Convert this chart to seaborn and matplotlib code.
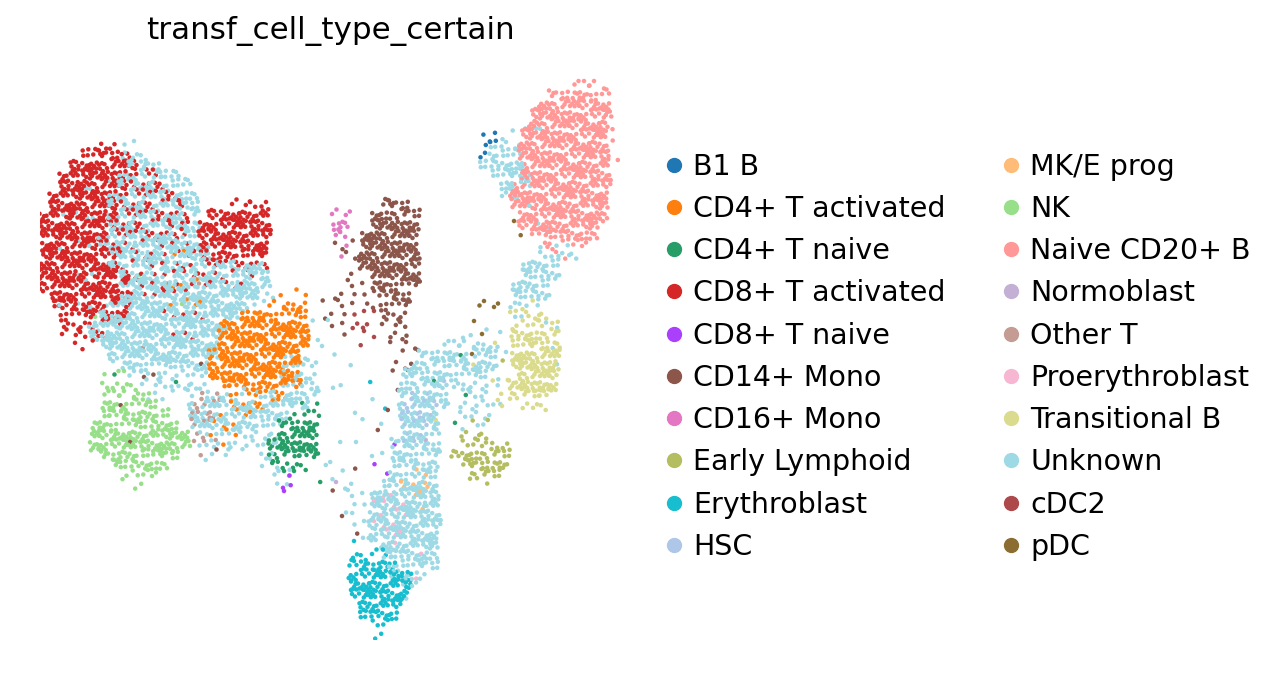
import numpy as np
import pandas as pd
import matplotlib
matplotlib.use("Agg")
import matplotlib.pyplot as plt
from matplotlib.lines import Line2D
import seaborn as sns

categories = ["B1 B", "CD4+ T activated", "CD4+ T naive", "CD8+ T activated",
              "CD8+ T naive", "CD14+ Mono", "CD16+ Mono", "Early Lymphoid",
              "Erythroblast", "HSC", "MK/E prog", "NK", "Naive CD20+ B",
              "Normoblast", "Other T", "Proerythroblast", "Transitional B",
              "Unknown", "cDC2", "pDC"]
colors = ['#1f77b4', '#ff7f0e', '#279e68', '#d62728', '#aa40fc', '#8c564b',
          '#e377c2', '#b5bd61', '#17becf', '#aec7e8', '#ffbb78', '#98df8a',
          '#ff9896', '#c5b0d5', '#c49c94', '#f7b6d2', '#dbdb8d', '#9edae5',
          '#ad494a', '#8c6d31']

# blocks read off the umap: (grid row, first col, last col, density 1-4)
# grid cells are 10 px, row 0 at y=80 px, col 0 at x=40 px
b1_b = [(5,44,45,1),(6,44,45,2),(7,44,44,2)]
cd4_act = [(21,24,26,1),(22,23,26,2),(23,20,26,3),(24,18,26,4),(25,18,26,4),(26,18,26,4),
           (27,17,25,4),(28,17,25,4),(29,17,25,4),(30,18,25,3),(31,19,24,2),(32,19,23,2),
           (33,18,21,1),(34,17,19,1),(35,17,19,1),(36,18,18,1),
           (17,13,14,1),(20,12,15,1),(22,13,16,1)]
cd4_naive = [(32,26,27,1),(33,25,27,2),(34,24,27,3),(35,24,27,4),(36,23,27,4),(37,23,27,3),
             (38,23,26,2),(39,24,25,1),(29,7,7,1),(30,13,13,1),(40,28,28,1),(27,42,42,1),
             (30,39,39,1),(31,42,42,1),(34,41,41,1)]
cd8_act = [(6,6,7,2),(7,4,8,3),(8,3,9,4),(9,2,8,4),(9,9,11,2),(10,2,8,4),(10,9,12,2),
           (11,1,7,4),(11,8,13,2),(12,1,7,4),(12,8,14,2),(13,0,7,4),(13,8,14,2),(14,0,7,4),
           (14,8,14,2),(15,0,6,4),(15,7,14,2),(16,0,6,4),(16,7,14,1),(17,0,7,4),(17,8,15,1),
           (18,0,7,4),(18,8,15,1),(19,0,8,4),(19,9,15,1),(20,0,8,4),(20,9,14,1),(21,1,8,4),
           (21,9,13,1),(22,1,8,3),(23,2,8,3),(24,2,7,2),(25,2,6,2),(26,3,5,1),
           (12,19,22,2),(13,17,22,4),(14,16,22,4),(15,16,22,4),(16,16,22,4),(17,16,22,3),
           (18,16,22,2),(19,15,21,1),(20,15,20,1),(23,12,16,1),(25,13,15,1)]
cd8_naive = [(39,25,25,1),(40,24,25,1),(41,24,24,1),(38,33,33,1),(39,34,34,1),(36,35,35,1)]
cd14_mono = [(12,34,36,3),(13,33,37,3),(14,33,37,4),(15,32,37,4),(16,32,37,4),(16,29,31,1),
             (17,32,37,4),(17,30,31,1),(18,32,37,4),(19,33,37,4),(19,31,31,1),(20,33,37,3),
             (20,30,32,1),(21,34,36,3),(21,29,33,1),(22,34,36,3),(22,28,33,1),(23,34,36,2),
             (23,28,30,1),(24,34,36,2),(24,29,30,1),(25,35,36,2),(25,30,30,1),(26,35,37,1),
             (27,36,37,1),(28,35,37,1),(29,35,36,1),(31,35,35,1),(33,34,34,1),(35,33,33,1),
             (38,31,31,1),(41,29,29,1),(43,30,30,1),(45,31,31,1),(29,10,11,1),(32,8,8,1),
             (36,9,9,1),(28,16,16,1),(37,17,17,1)]
cd16_mono = [(13,29,30,2),(14,29,30,3),(15,29,30,2),(16,30,30,1),(17,30,30,1)]
early_lymphoid = [(34,43,44,1),(35,42,44,2),(36,42,46,2),(37,41,46,3),(38,42,46,3),
                  (39,43,45,3),(40,44,44,1),(28,46,46,1)]
erythroblast = [(46,31,31,1),(47,31,34,2),(48,31,35,3),(49,31,36,4),(50,31,36,4),(51,31,36,4),
                (52,32,35,4),(53,32,35,3),(54,33,34,2),(55,33,34,1),(30,33,33,1),(32,34,34,1),
                (49,37,37,1)]
hsc = [(31,37,38,1),(32,36,39,2),(33,36,39,2),(34,36,38,2),(35,36,38,1),(36,36,37,1),(30,39,40,1)]
mke_prog = [(39,37,38,1),(40,36,38,2),(41,37,38,1),(42,38,38,1)]
nk = [(29,6,8,1),(30,6,9,2),(31,6,10,2),(32,6,11,3),(33,6,12,3),(34,5,13,3),(35,5,14,4),
      (36,5,14,4),(37,6,13,3),(38,7,12,3),(39,8,11,2),(40,9,10,1),(19,9,9,1),(23,5,5,1),
      (22,14,14,1)]
naive_b = [(0,53,55,2),(1,51,56,3),(2,50,56,4),(3,49,56,4),(4,49,56,4),(5,48,56,4),
           (6,48,56,4),(7,48,56,4),(8,48,56,4),(9,48,56,4),(10,47,56,4),(11,47,56,4),
           (12,47,56,4),(13,48,56,4),(14,48,55,4),(15,49,55,3),(16,50,54,2),(17,51,52,1),
           (4,57,57,1),(6,57,57,1),(8,57,57,1)]
normoblast = [(40,29,29,1),(35,38,38,1)]
other_t = [(31,16,17,1),(32,15,17,2),(33,15,17,2),(34,15,16,2),(35,15,17,1),(36,15,16,1),
           (37,16,16,1),(20,15,15,1),(26,10,10,1)]
proerythroblast = [(41,34,35,1),(42,33,36,1),(43,34,36,1),(44,33,35,1),(45,34,36,1),
                   (46,35,35,1),(47,38,38,1),(49,37,37,1)]
transitional_b = [(22,48,49,1),(23,47,50,2),(24,47,51,2),(25,47,51,3),(26,47,51,3),
                  (27,47,51,4),(28,47,51,4),(29,48,51,4),(30,47,51,4),(31,47,50,3),
                  (32,48,50,2),(26,45,45,1),(30,45,46,1),(32,45,46,1),(28,43,43,1),
                  (33,39,39,1),(31,46,46,1)]
unknown = [(6,8,9,1),(7,8,10,2),(8,9,11,3),(9,8,13,3),(10,8,14,3),(11,7,15,3),(12,7,15,3),
           (13,7,15,3),(14,7,15,3),(15,6,15,3),(16,6,16,4),(17,7,16,4),(18,7,22,3),
           (19,8,22,3),(20,8,22,4),(21,8,21,4),(22,7,20,4),(23,6,19,4),(24,5,18,4),
           (25,5,17,4),(26,6,17,4),(27,7,17,4),(28,8,16,3),(29,9,16,2),(30,10,16,2),
           (31,10,15,1),(10,3,6,1),(13,2,6,1),(16,2,5,1),(19,3,6,1),(22,2,6,1),
           (21,21,23,1),(22,21,22,1),(27,24,26,1),(28,24,27,2),(29,24,27,2),(30,24,27,2),
           (31,16,22,2),(31,23,27,3),(32,15,21,3),(32,22,26,3),(33,15,24,3),(34,15,23,3),
           (35,16,23,2),(36,16,23,2),(37,16,18,1),(37,22,23,2),(38,22,23,1),(39,23,24,2),
           (40,23,24,1),
           (24,27,28,1),(26,27,28,1),(27,29,29,1),(28,31,31,1),(30,29,30,1),(31,33,33,1),
           (33,31,32,1),(34,34,34,1),(36,30,31,1),(37,33,34,1),(38,28,29,1),(39,29,30,1),
           (40,30,31,1),(41,30,32,1),(42,31,32,1),(43,30,31,1),(44,31,32,1),(45,32,32,1),
           (26,40,45,2),(27,38,45,3),(28,37,45,3),(29,36,44,3),(30,36,40,3),(30,41,45,2),
           (31,36,40,3),(31,42,44,2),(32,36,40,3),(32,42,45,2),(33,36,39,3),(33,42,44,2),
           (34,36,39,3),(34,42,44,1),(35,36,39,3),(36,35,39,3),(37,35,39,3),(38,35,39,3),
           (39,35,39,3),(40,34,39,3),(41,33,39,4),(42,33,39,4),(43,33,39,4),(44,33,39,4),
           (45,33,39,4),(46,34,39,4),(47,34,39,3),(48,35,39,3),(49,35,38,2),(50,36,37,2),
           (51,36,36,1),(25,42,44,1),
           (5,46,47,1),(6,45,47,2),(7,45,47,3),(8,44,48,3),(9,45,48,3),(10,46,48,3),
           (11,46,47,2),(4,48,50,1),(12,48,49,1),(14,49,50,1),
           (16,50,52,1),(17,50,53,2),(18,48,51,3),(19,48,51,3),(20,47,50,3),(21,47,50,3),
           (22,47,49,2),(23,47,48,1),(25,46,46,1),(27,46,46,1),(24,50,51,1),(26,51,51,1),
           (28,51,51,1)]
cdc2 = [(23,31,33,1),(24,31,32,2),(25,32,33,1),(26,32,32,1)]
pdc = [(22,44,45,2),(24,43,43,1),(25,44,44,1),(27,43,43,1),(14,47,47,1),(15,48,48,1)]

blocks = [b1_b, cd4_act, cd4_naive, cd8_act, cd8_naive, cd14_mono, cd16_mono,
          early_lymphoid, erythroblast, hsc, mke_prog, nk, naive_b, normoblast,
          other_t, proerythroblast, transitional_b, unknown, cdc2, pdc]

# dots per cell for each density level
dots_per_level = {1: 1, 2: 2, 3: 4, 4: 6}

# collect claims per grid cell
cells = {}
for cat, blk in zip(categories, blocks):
    for r, c0, c1, n in blk:
        for c in range(c0, c1 + 1):
            cells.setdefault((r, c), []).append([cat, dots_per_level[n]])

# three fixed sub-position patterns inside a cell, picked per cell so rows don't line up
patterns = [
    [(0.22, 0.30), (0.72, 0.78), (0.78, 0.18), (0.28, 0.82), (0.50, 0.52), (0.02, 0.58),
     (0.55, 0.02), (0.98, 0.50)],
    [(0.60, 0.20), (0.15, 0.65), (0.85, 0.60), (0.35, 0.10), (0.45, 0.90), (0.05, 0.25),
     (0.70, 0.98), (0.40, 0.45)],
    [(0.40, 0.70), (0.80, 0.35), (0.10, 0.15), (0.55, 0.40), (0.20, 0.95), (0.95, 0.85),
     (0.65, 0.05), (0.05, 0.45)],
]
nudges = [(0, 0), (0.18, -0.2), (-0.15, 0.22), (0.12, 0.16), (-0.2, -0.1),
          (0.05, -0.25), (-0.1, 0.08)]

xs, ys, labs = [], [], []
for (r, c), claims in sorted(cells.items()):
    left = [n for _, n in claims]
    order = []
    while sum(left) > 0:
        for i, (cat, _) in enumerate(claims):
            if left[i] > 0:
                order.append(cat)
                left[i] -= 1
    pat = patterns[(r * 2 + c) % 3]
    dx, dy = nudges[(r * 5 + c * 3) % 7]
    for k, cat in enumerate(order[:8]):
        sx, sy = pat[k]
        xs.append(c + sx + dx)
        ys.append(r + sy + dy)
        labs.append(cat)

df = pd.DataFrame({"x": xs, "y": ys, "cell_type": labs})

sns.set_style("white")
plt.rcParams["text.color"] = "black"

fig = plt.figure(figsize=(12.77, 6.77), dpi=100)
ax = fig.add_axes([40 / 1277, 37 / 677, 580 / 1277, 565 / 677])
sns.scatterplot(data=df, x="x", y="y", hue="cell_type", hue_order=categories,
                palette=colors, s=10.5, linewidth=0, legend=False, ax=ax)
ax.set_xlim(0, 58)
ax.set_ylim(56, -0.5)
ax.axis("off")
ax.set_title("transf_cell_type_certain", fontsize=22.3, pad=26, color="black")

handles = [Line2D([], [], marker="o", ls="", color=c, markersize=10) for c in colors]
leg = fig.legend(handles, categories, ncol=2, loc="upper left",
                 bbox_to_anchor=(640 / 1277, 1 - 127 / 677), frameon=False, fontsize=20.5,
                 handlelength=0.6, handletextpad=0.37, columnspacing=2.0, labelspacing=0.5)
for t in leg.get_texts():
    t.set_color("black")

fig.savefig("out.png", dpi=100)
